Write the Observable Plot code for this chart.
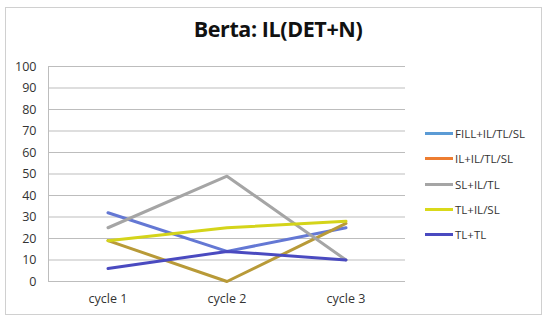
<!DOCTYPE html>
<html>
<head>
<meta charset="utf-8">
<script src="https://cdn.jsdelivr.net/npm/d3@7"></script>
<script src="https://cdn.jsdelivr.net/npm/@observablehq/plot@0.6"></script>
<style>
  html, body { margin: 0; padding: 0; background: #fff; }
  #wrap { position: relative; width: 550px; height: 322px; overflow: hidden; font-family: "Open Sans", sans-serif; }
  #frame { position: absolute; left: 5px; top: 7px; width: 537px; height: 308px; border: 1px solid #d0d0d0; box-sizing: border-box; }
  #title { position: absolute; left: 0; top: 14px; width: 556px; text-align: center; font-size: 21.5px; font-weight: bold; color: #111; letter-spacing: -0.4px; }
  #chart { position: absolute; left: 0; top: 0; }
  #legend { position: absolute; left: 425px; top: 121px; font-size: 11.5px; color: #333; }
  .row { height: 25.3px; display: flex; align-items: center; }
  .sw { width: 28px; height: 3px; margin-right: 2px; }
</style>
</head>
<body>
<div id="wrap">
  <div id="frame"></div>
  <div id="chart"></div>
  <div id="title">Berta: IL(DET+N)</div>
  <div id="legend"></div>
</div>
<script>
const cycles = ["cycle 1", "cycle 2", "cycle 3"];
const seriesNames = ["FILL+IL/TL/SL", "IL+IL/TL/SL", "SL+IL/TL", "TL+IL/SL", "TL+TL"];
const fillIlTlSl = [32, 14, 25];
const ilIlTlSl = [19, 0, 27];
const slIlTl = [25, 49, 10];
const tlIlSl = [19, 25, 28];
const tlTl = [6, 14, 10];
const yTicks = [0, 10, 20, 30, 40, 50, 60, 70, 80, 90, 100];
const lineColors = ["#6478d4", "#b89a38", "#a5a5a5", "#d4d41a", "#4a4ac0"];
const legendColors = ["#5b9bd5", "#ed7d31", "#a5a5a5", "#d9d91a", "#4a4ac0"];

const seriesValues = [fillIlTlSl, ilIlTlSl, slIlTl, tlIlSl, tlTl];
const data = [];
seriesNames.forEach((s, i) => cycles.forEach((c, j) => data.push({series: s, cycle: c, value: seriesValues[i][j]})));

const chart = Plot.plot({
  width: 550,
  height: 322,
  marginLeft: 48,
  marginRight: 145,
  marginTop: 66,
  marginBottom: 41,
  style: {fontFamily: "Open Sans, sans-serif", background: "transparent"},
  x: {type: "band", domain: cycles, padding: 0, label: null},
  y: {domain: [0, 100], ticks: yTicks, label: null},
  color: {domain: seriesNames, range: lineColors},
  marks: [
    Plot.gridY(yTicks, {stroke: "#bdbdbd", strokeOpacity: 1, strokeWidth: 1}),
    Plot.frame({anchor: "left", stroke: "#bdbdbd"}),
    Plot.axisY(yTicks, {tickSize: 0, tickPadding: 12, fontSize: 12.5, fill: "#333"}),
    Plot.axisX({tickSize: 0, tickPadding: 13, fontSize: 12.5, fill: "#333"}),
    Plot.lineY(data, {x: "cycle", y: "value", z: "series", stroke: "series", strokeWidth: 3, strokeLinecap: "round"})
  ]
});
document.getElementById("chart").appendChild(chart);

const leg = document.getElementById("legend");
seriesNames.forEach((s, i) => {
  const r = document.createElement("div");
  r.className = "row";
  r.innerHTML = `<div class="sw" style="background:${legendColors[i]}"></div><span>${s}</span>`;
  leg.appendChild(r);
});
</script>
</body>
</html>
